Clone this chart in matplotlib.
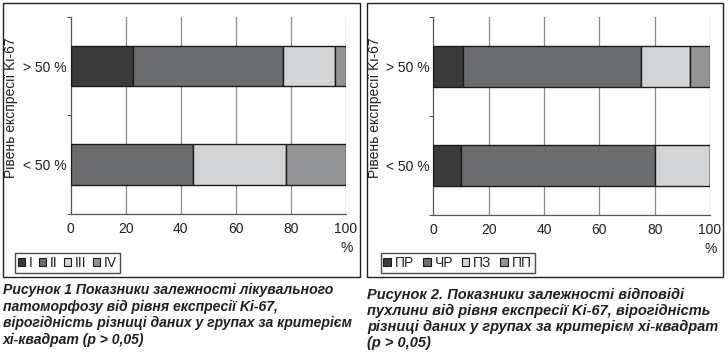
import matplotlib
matplotlib.use("Agg")
import matplotlib.pyplot as plt
import numpy as np
from matplotlib.patches import Rectangle, Patch

# ---- data ----
groups = ["< 50 %", "> 50 %"]
left_series = ["I", "II", "III", "IV"]
left_values = {
    "I":   [0.0, 22.7],
    "II":  [44.3, 54.3],
    "III": [33.8, 19.1],
    "IV":  [21.9, 3.9],
}
right_series = ["ПР", "ЧР", "ПЗ", "ПП"]
right_values = {
    "ПР": [10.1, 10.8],
    "ЧР": [69.9, 64.4],
    "ПЗ": [20.0, 17.7],
    "ПП": [0.0, 7.1],
}
xticks = [0, 20, 40, 60, 80, 100]
ylabel = "Рівень експресії Ki-67"
caption1 = ("Рисунок 1 Показники залежності лікувального\n"
            "патоморфозу від рівня експресії Ki-67,\n"
            "вірогідність різниці даних у групах за критерієм\n"
            "хі-квадрат (р > 0,05)")
caption2 = ("Рисунок 2. Показники залежності відповіді\n"
            "пухлини від рівня експресії Ki-67, вірогідність\n"
            "різниці даних у групах за критерієм хі-квадрат\n"
            "(р > 0,05)")
colors = ["#3b3b3c", "#6c6d6f", "#d3d4d5", "#939496"]

plt.rcParams['font.family'] = ['Liberation Sans', 'DejaVu Sans']
W, H = 728, 361
fig = plt.figure(figsize=(W / 100, H / 100), dpi=100)
txtc = "#231f20"
FS = 10


def px_axes(x0, y0, x1, y1):
    return fig.add_axes([x0 / W, 1 - y1 / H, (x1 - x0) / W, (y1 - y0) / H])


def panel(ax, series, values, legend_box, box, ylab_x, colsp, hl):
    # border
    bx0, by0, bx1, by1 = box
    fig.patches.append(Rectangle((bx0 / W, 1 - by1 / H), (bx1 - bx0) / W, (by1 - by0) / H,
                                 transform=fig.transFigure, fill=False, edgecolor="#231f20",
                                 linewidth=1.0, zorder=0))
    y = np.arange(len(groups))
    left = np.zeros(len(groups))
    handles = []
    for s, c in zip(series, colors):
        v = np.array(values[s])
        ax.barh(y, v, left=left, height=0.41, color=c, edgecolor="#1a1a1a",
                linewidth=1.0, zorder=3)
        left += v
        handles.append(Patch(facecolor=c, edgecolor="#1a1a1a", linewidth=0.8, label=s))
    ax.set_xlim(0, 100)
    ax.set_ylim(-0.5, 1.5)
    ax.set_xticks(xticks)
    ax.set_xticklabels([str(t) for t in xticks], fontsize=FS, color=txtc)
    ax.tick_params(axis="x", length=0, pad=6)
    ax.set_yticks(y)
    ax.set_yticklabels(groups, fontsize=FS, color=txtc)
    ax.tick_params(axis="y", length=0, pad=3)
    ax.set_yticks([-0.5, 0.5, 1.5], minor=True)
    ax.tick_params(axis="y", which="minor", length=3, width=0.8, color="#555555", direction="out")
    for t in xticks[1:]:
        ax.axvline(t, color="#8a8a8a", linewidth=0.9, zorder=1)
    for sp in ["top", "right"]:
        ax.spines[sp].set_visible(False)
    ax.spines["left"].set_color("#555555")
    ax.spines["bottom"].set_color("#555555")
    ax.spines["left"].set_linewidth(0.9)
    ax.spines["bottom"].set_linewidth(0.9)
    ax.set_ylabel(ylabel, fontsize=FS, color=txtc)
    ax.yaxis.set_label_coords(ylab_x, 0.54)
    ax.text(1.025, -0.135, "%", ha="right", va="top", fontsize=FS, color=txtc,
            transform=ax.transAxes)
    lx0, ly0, lx1, ly1 = legend_box
    leg = fig.legend(handles=handles, loc="lower left",
                     bbox_to_anchor=(lx0 / W, 1 - ly1 / H),
                     ncol=4, fontsize=FS, frameon=True, fancybox=False,
                     handlelength=hl, handleheight=0.55, handletextpad=0.3,
                     columnspacing=colsp, borderpad=0.2, borderaxespad=0)
    leg.get_frame().set_edgecolor("#231f20")
    leg.get_frame().set_linewidth(1.0)
    for t in leg.get_texts():
        t.set_color(txtc)


ax1 = px_axes(70.7, 16.7, 346, 214)
panel(ax1, left_series, left_values, (15, 256, 120, 273), (3, 3, 360, 277), -0.19, 0.45, 0.5)
ax2 = px_axes(433.3, 16.7, 710, 215)
panel(ax2, right_series, right_values, (380.7, 256, 527, 273), (367, 3, 723, 277), -0.185, 0.6, 0.55)

fig.text(3 / W, 1 - 283 / H, caption1, ha="left", va="top", fontsize=10.1,
         fontweight="bold", fontstyle="italic", color=txtc, linespacing=1.23)
fig.text(367 / W, 1 - 288 / H, caption2, ha="left", va="top", fontsize=10.5,
         fontweight="bold", fontstyle="italic", color=txtc, linespacing=1.17)

fig.savefig("out.png", dpi=100, facecolor="white")
